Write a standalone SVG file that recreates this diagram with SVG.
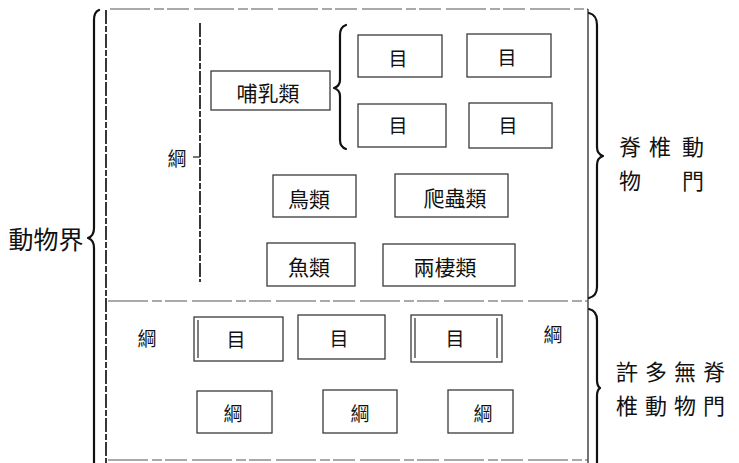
<svg xmlns="http://www.w3.org/2000/svg" width="739" height="463" viewBox="0 0 739 463">
<style>
.bg{fill:#ffffff}
.box{fill:none;stroke:#3a3a3a;stroke-width:1.3}
.frame{fill:none;stroke:#3a3a3a;stroke-width:1.4}
.dash{fill:none;stroke:#555;stroke-width:1.2;stroke-dasharray:40 4 10 3 22 5}
.brace{fill:none;stroke:#111;stroke-width:2.2;stroke-linecap:round;stroke-linejoin:round}
.vline{fill:none;stroke:#222;stroke-width:1.8;stroke-dasharray:14 2 6 2}
text{font-family:"Noto Sans CJK TC","Noto Sans CJK SC",sans-serif;fill:#111;text-anchor:middle;dominant-baseline:central}
.big{font-size:25px}
.col{font-size:22px}
.mid{font-size:21px}
.sm{font-size:19px}
</style>
<rect class="bg" x="0" y="0" width="739" height="463"/>

<g id="connectors">
  <line class="vline" x1="106" y1="10" x2="106" y2="463"/>
  <line class="dash" x1="110" y1="9" x2="588" y2="9"/>
  <line class="frame" x1="588" y1="9" x2="588" y2="463"/>
  <line class="dash" x1="108" y1="301" x2="588" y2="301"/>
  <line class="dash" x1="108" y1="460" x2="588" y2="460"/>
  <path class="brace" d="M 99 10 Q 94 12 94 20 L 94 228 Q 94 236 88 238 Q 94 240 94 248 L 94 463"/>
  <path class="brace" d="M 589 13 Q 597 15 597 25 L 597 147 Q 597 154 603 156 Q 597 158 597 165 L 597 287 Q 597 296 589 298"/>
  <path class="brace" d="M 589 309 Q 597 311 597 320 L 597 380 Q 597 386 600 388 Q 597 390 597 396 L 597 463"/>
  <line class="vline" x1="200" y1="23" x2="200" y2="282"/>
  <line class="frame" x1="193" y1="157" x2="200" y2="157"/>
  <path class="brace" d="M 346 25 Q 340 27 340 35 L 340 80 Q 340 86 334 88 Q 340 90 340 96 L 340 140 Q 340 147 346 149"/>
</g>

<g id="n-animal-kingdom"><text class="big" x="46" y="238">動物界</text></g>
<g id="n-vert-phylum">
  <text class="col" x="630" y="145">脊</text>
  <text class="col" x="660" y="145">椎</text>
  <text class="col" x="693" y="145">動</text>
  <text class="col" x="630" y="179">物</text>
  <text class="col" x="693" y="179">門</text>
</g>
<g id="n-invert-phyla">
  <text class="col" x="627" y="370">許</text>
  <text class="col" x="656" y="370">多</text>
  <text class="col" x="685" y="370">無</text>
  <text class="col" x="714" y="370">脊</text>
  <text class="col" x="627" y="404">椎</text>
  <text class="col" x="656" y="404">動</text>
  <text class="col" x="685" y="404">物</text>
  <text class="col" x="714" y="404">門</text>
</g>
<g id="n-class-label"><text class="sm" x="177" y="157">綱</text></g>

<g id="n-mammals"><rect class="box" x="211" y="71" width="119" height="39"/><text class="mid" x="268" y="92">哺乳類</text></g>
<g id="n-order1"><rect class="box" x="358" y="35" width="84" height="42"/><text class="sm" x="398" y="57">目</text></g>
<g id="n-order2"><rect class="box" x="467" y="34" width="84" height="43"/><text class="sm" x="507" y="56">目</text></g>
<g id="n-order3"><rect class="box" x="358" y="104" width="88" height="43"/><text class="sm" x="398" y="124">目</text></g>
<g id="n-order4"><rect class="box" x="469" y="103" width="83" height="45"/><text class="sm" x="508" y="124">目</text></g>

<g id="n-birds"><rect class="box" x="273" y="175" width="83" height="42"/><text class="mid" x="309" y="198">鳥類</text></g>
<g id="n-reptiles"><rect class="box" x="395" y="174" width="113" height="43"/><text class="mid" x="455" y="197">爬蟲類</text></g>
<g id="n-fish"><rect class="box" x="267" y="243" width="88" height="43"/><text class="mid" x="309" y="266">魚類</text></g>
<g id="n-amphibians"><rect class="box" x="383" y="244" width="132" height="42"/><text class="mid" x="445" y="266">兩棲類</text></g>

<g id="n-low-class-left"><text class="sm" x="147" y="337">綱</text></g>
<g id="n-low-class-right"><text class="sm" x="553" y="333">綱</text></g>
<g id="n-low-order1"><rect class="box" x="194" y="317" width="89" height="44"/><line class="box" x1="198" y1="320" x2="198" y2="358"/><text class="sm" x="236" y="338">目</text></g>
<g id="n-low-order2"><rect class="box" x="298" y="315" width="87" height="44"/><text class="sm" x="339" y="337">目</text></g>
<g id="n-low-order3"><rect class="box" x="411" y="315" width="91" height="47"/><line class="box" x1="415" y1="318" x2="415" y2="358"/><line class="box" x1="497" y1="318" x2="497" y2="358"/><text class="sm" x="455" y="337">目</text></g>

<g id="n-low-class1"><rect class="box" x="197" y="391" width="75" height="42"/><text class="sm" x="233" y="412">綱</text></g>
<g id="n-low-class2"><rect class="box" x="323" y="390" width="74" height="43"/><text class="sm" x="360" y="412">綱</text></g>
<g id="n-low-class3"><rect class="box" x="448" y="390" width="65" height="43"/><text class="sm" x="483" y="412">綱</text></g>
</svg>
